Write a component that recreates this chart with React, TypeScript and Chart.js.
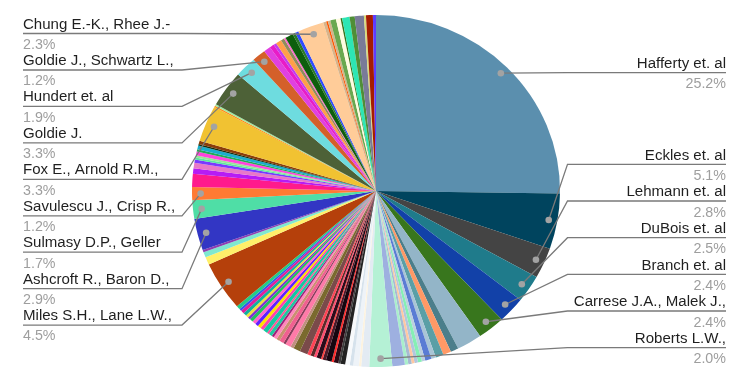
import React, { useEffect, useRef } from 'react';
import { Chart, registerables } from 'chart.js';

Chart.register(...registerables);

// Slices clockwise from 12 o'clock. Empty name = slice without a label.
const categories: string[] = [
  'Hafferty et. al', 'Eckles et. al', 'Lehmann et. al', 'DuBois et. al', 'Branch et. al', 'Carrese J.A., Malek J.,',
  '', '', '', '', '', '', '', '', '', '', '', '', '',
  'Roberts L.W.,',
  '', '', '', '', '',
  '', '', '', '', '', '', '', '', '', '',
  '', '', '', '', '', '', '', '', '', '', '', '',
  '', '', '', '', '', '', '', '', '', '', '', '',
  'Miles S.H., Lane L.W.,',
  '', '', '',
  'Ashcroft R., Baron D.,', 'Sulmasy D.P., Geller', 'Savulescu J., Crisp R.,',
  '', '', '', '', '', '', '', '', '', '', '',
  'Fox E., Arnold R.M.,',
  '', '',
  'Goldie J.', 'Hundert et. al', 'Goldie J., Schwartz L.,',
  '', '', '', '', '', '', '', '', '',
  'Chung E.-K., Rhee J.-',
  '', '', '', '', '', '', '', '', '', '', '', '',
];

const values: number[] = [
  25.2, 5.1, 2.8, 2.5, 2.4, 2.4,
  2.2, 0.7, 0.7, 0.7, 0.4, 0.55, 0.3, 0.35, 0.3, 0.25, 0.3, 0.3, 1.1,
  2.0,
  0.7, 0.2, 0.5, 0.3, 0.4,
  0.4, 0.2, 0.4, 0.2, 0.5, 0.3, 0.15, 0.4, 0.25, 0.3,
  0.3, 0.7, 0.6, 0.3, 0.5, 0.2, 0.4, 0.3, 0.3, 0.2, 0.3, 0.2,
  0.4, 0.3, 0.3, 0.3, 0.3, 0.3, 0.25, 0.25, 0.3, 0.3, 0.2, 0.35,
  4.5,
  0.7, 0.5, 0.2,
  2.9, 1.7, 1.2,
  1.2, 0.5, 0.5, 0.3, 0.2, 0.2, 0.35, 0.2, 0.35, 0.15, 0.3,
  3.3,
  0.15, 0.15,
  3.3, 1.9, 1.2,
  0.6, 0.4, 0.25, 0.5, 0.3, 0.15, 0.7, 0.25, 0.3,
  2.3,
  0.27, 0.15, 0.22, 0.5, 0.4, 0.14, 0.65, 0.45, 0.8, 0.18, 0.6, 0.27,
];

const colors: string[] = [
  '#5b8fae', '#00445e', '#444444', '#1f7b8b', '#1241a8', '#38761d',
  '#93b5c8', '#4b7e8b', '#ff9966', '#5a9fa6', '#a9c5d6', '#5a7cd4', '#bccfdf', '#86efb5', '#b3c6dd', '#ffc8a2', '#a7bad2', '#a9efcb', '#9eb0e0',
  '#b5f1d5',
  '#e3ebf3', '#fdf3df', '#eef3f8', '#d6e2ec', '#f7f9fb',
  '#222222', '#3d3d3d', '#2a0a14', '#ff2a2a', '#160610', '#4a1a2a', '#ff3b3b', '#2b0b1b', '#ff4d6d', '#5a2a2a',
  '#ff4455', '#7a4a4a', '#7a6a2e', '#c09080', '#ff7aa8', '#8a3a5a', '#f06090', '#c89070', '#ff88bb', '#a0207a', '#20c8a0', '#ff5599',
  '#14c8a0', '#ff44aa', '#ffe000', '#6020ff', '#ff66cc', '#20c060', '#8030d0', '#f0e040', '#10b0a0', '#e0209a', '#3355ee', '#22cc88',
  '#b5400b',
  '#fff06a', '#7fe8d0', '#8e3fb0',
  '#3236c4', '#4fdea6', '#ff7a33',
  '#ff1a8c', '#b61cf5', '#e878c8', '#7a39ff', '#5ce8a0', '#99e699', '#ff44dd', '#22aa55', '#1aaecc', '#103010', '#8b3d0a',
  '#f1c232',
  '#ff8c1a', '#9fe89f',
  '#4d6137', '#6edcdf', '#d4602a',
  '#e040e0', '#e81cc8', '#c03cf0', '#ff9f4a', '#8f8c5c', '#ff66cc', '#0d5e0d', '#2a7a2a', '#2f4bff',
  '#ffcc99',
  '#d8b48a', '#ff5500', '#d2b48c', '#6aa84f', '#fffbe0', '#38761d', '#2de6b4', '#4f8f37', '#797b98', '#d9d97a', '#a61c00', '#5d3cff',
];

// Layout constants (label placement)
const FONT = '"Liberation Sans", Arial, Helvetica, sans-serif';
const X_STRETCH = 184 / 176;
const NAME_STRETCH = 1.075;
const PCT_STRETCH = 1.02;
const RIGHT_SLOTS = [72.7, 164.3, 201, 237.7, 274.3, 311, 347.7];
const LEFT_SLOTS = [33.5, 70, 106.4, 142.9, 179.3, 215.8, 252.2, 288.7, 325.1];
const RIGHT_ELBOW = 567.5;
const RIGHT_END = 726;
const LEFT_ELBOW = 182;
const LEFT_START = 23;

const ellipsePlugin = {
  id: 'ellipseStretch',
  beforeDatasetsDraw(chart: any) {
    const arc = chart.getDatasetMeta(0).data[0];
    if (!arc) return;
    const { x, y } = arc.getProps(['x', 'y'], true);
    const ctx = chart.ctx;
    ctx.save();
    ctx.translate(x, y);
    ctx.scale(X_STRETCH, 1);
    ctx.translate(-x, -y);
  },
  afterDatasetsDraw(chart: any) {
    chart.ctx.restore();
  },
};

function stretchedText(ctx: any, text: string, x: number, y: number, align: string, sx: number, color: string) {
  ctx.save();
  ctx.translate(x, y);
  ctx.scale(sx, 1);
  ctx.font = `14px ${FONT}`;
  ctx.textAlign = align;
  ctx.textBaseline = 'alphabetic';
  ctx.fillStyle = color;
  ctx.fillText(text, 0, 0);
  ctx.restore();
}

const labelPlugin = {
  id: 'sliceLabels',
  afterDraw(chart: any) {
    const meta = chart.getDatasetMeta(0);
    const ctx = chart.ctx;
    const items: any[] = [];
    meta.data.forEach((arc: any, i: number) => {
      if (!categories[i]) return;
      const p = arc.getProps(['x', 'y', 'startAngle', 'endAngle', 'outerRadius'], true);
      const mid = (p.startAngle + p.endAngle) / 2;
      const r = p.outerRadius * 0.953;
      const dx = p.x + Math.cos(mid) * r * X_STRETCH;
      const dy = p.y + Math.sin(mid) * r;
      const deg = (((mid + Math.PI / 2) * 180) / Math.PI + 720) % 360;
      items.push({ i, dx, dy, deg });
    });
    const right = items.filter((it) => it.deg < 180).sort((a, b) => a.deg - b.deg);
    const left = items.filter((it) => it.deg >= 180).sort((a, b) => b.deg - a.deg);

    ctx.save();
    ctx.lineWidth = 1.3;
    ctx.strokeStyle = '#7a7a7a';
    const drawDot = (x: number, y: number) => {
      ctx.beginPath();
      ctx.arc(x, y, 3.3, 0, Math.PI * 2);
      ctx.fillStyle = '#a3a3a3';
      ctx.fill();
    };

    right.forEach((it, j) => {
      const y = RIGHT_SLOTS[j] ?? RIGHT_SLOTS[RIGHT_SLOTS.length - 1] + 36.7 * (j - RIGHT_SLOTS.length + 1);
      ctx.beginPath();
      ctx.moveTo(it.dx, it.dy);
      ctx.lineTo(RIGHT_ELBOW, y);
      ctx.lineTo(RIGHT_END, y);
      ctx.stroke();
      drawDot(it.dx, it.dy);
      stretchedText(ctx, categories[it.i], RIGHT_END, y - 4.7, 'right', NAME_STRETCH, '#1f1f1f');
      stretchedText(ctx, values[it.i].toFixed(1) + '%', RIGHT_END, y + 15.5, 'right', PCT_STRETCH, '#9e9e9e');
    });

    left.forEach((it, j) => {
      const y = LEFT_SLOTS[j] ?? LEFT_SLOTS[LEFT_SLOTS.length - 1] + 36.45 * (j - LEFT_SLOTS.length + 1);
      ctx.beginPath();
      ctx.moveTo(it.dx, it.dy);
      ctx.lineTo(LEFT_ELBOW, y);
      ctx.lineTo(LEFT_START, y);
      ctx.stroke();
      drawDot(it.dx, it.dy);
      stretchedText(ctx, categories[it.i], LEFT_START, y - 5, 'left', NAME_STRETCH, '#1f1f1f');
      stretchedText(ctx, values[it.i].toFixed(1) + '%', LEFT_START, y + 15.3, 'left', PCT_STRETCH, '#9e9e9e');
    });
    ctx.restore();
  },
};

export default function App() {
  const canvasRef = useRef<HTMLCanvasElement | null>(null);

  useEffect(() => {
    document.body.style.margin = '0';
    const canvas = canvasRef.current;
    if (!canvas) return;
    const chart = new Chart(canvas, {
      type: 'pie',
      data: {
        labels: categories,
        datasets: [
          {
            data: values,
            backgroundColor: colors,
            borderWidth: 0,
          },
        ],
      },
      options: {
        responsive: false,
        animation: false,
        devicePixelRatio: 1,
        events: [],
        layout: { padding: { top: 15, bottom: 11, left: 2, right: 0 } },
        plugins: {
          legend: { display: false },
          tooltip: { enabled: false },
        },
      },
      plugins: [ellipsePlugin, labelPlugin],
    } as any);
    return () => chart.destroy();
  }, []);

  return (
    <div style={{ position: 'absolute', left: 0, top: 0, width: 750, height: 378, background: '#ffffff' }}>
      <canvas ref={canvasRef} width={750} height={378} style={{ display: 'block', width: 750, height: 378 }} />
    </div>
  );
}
